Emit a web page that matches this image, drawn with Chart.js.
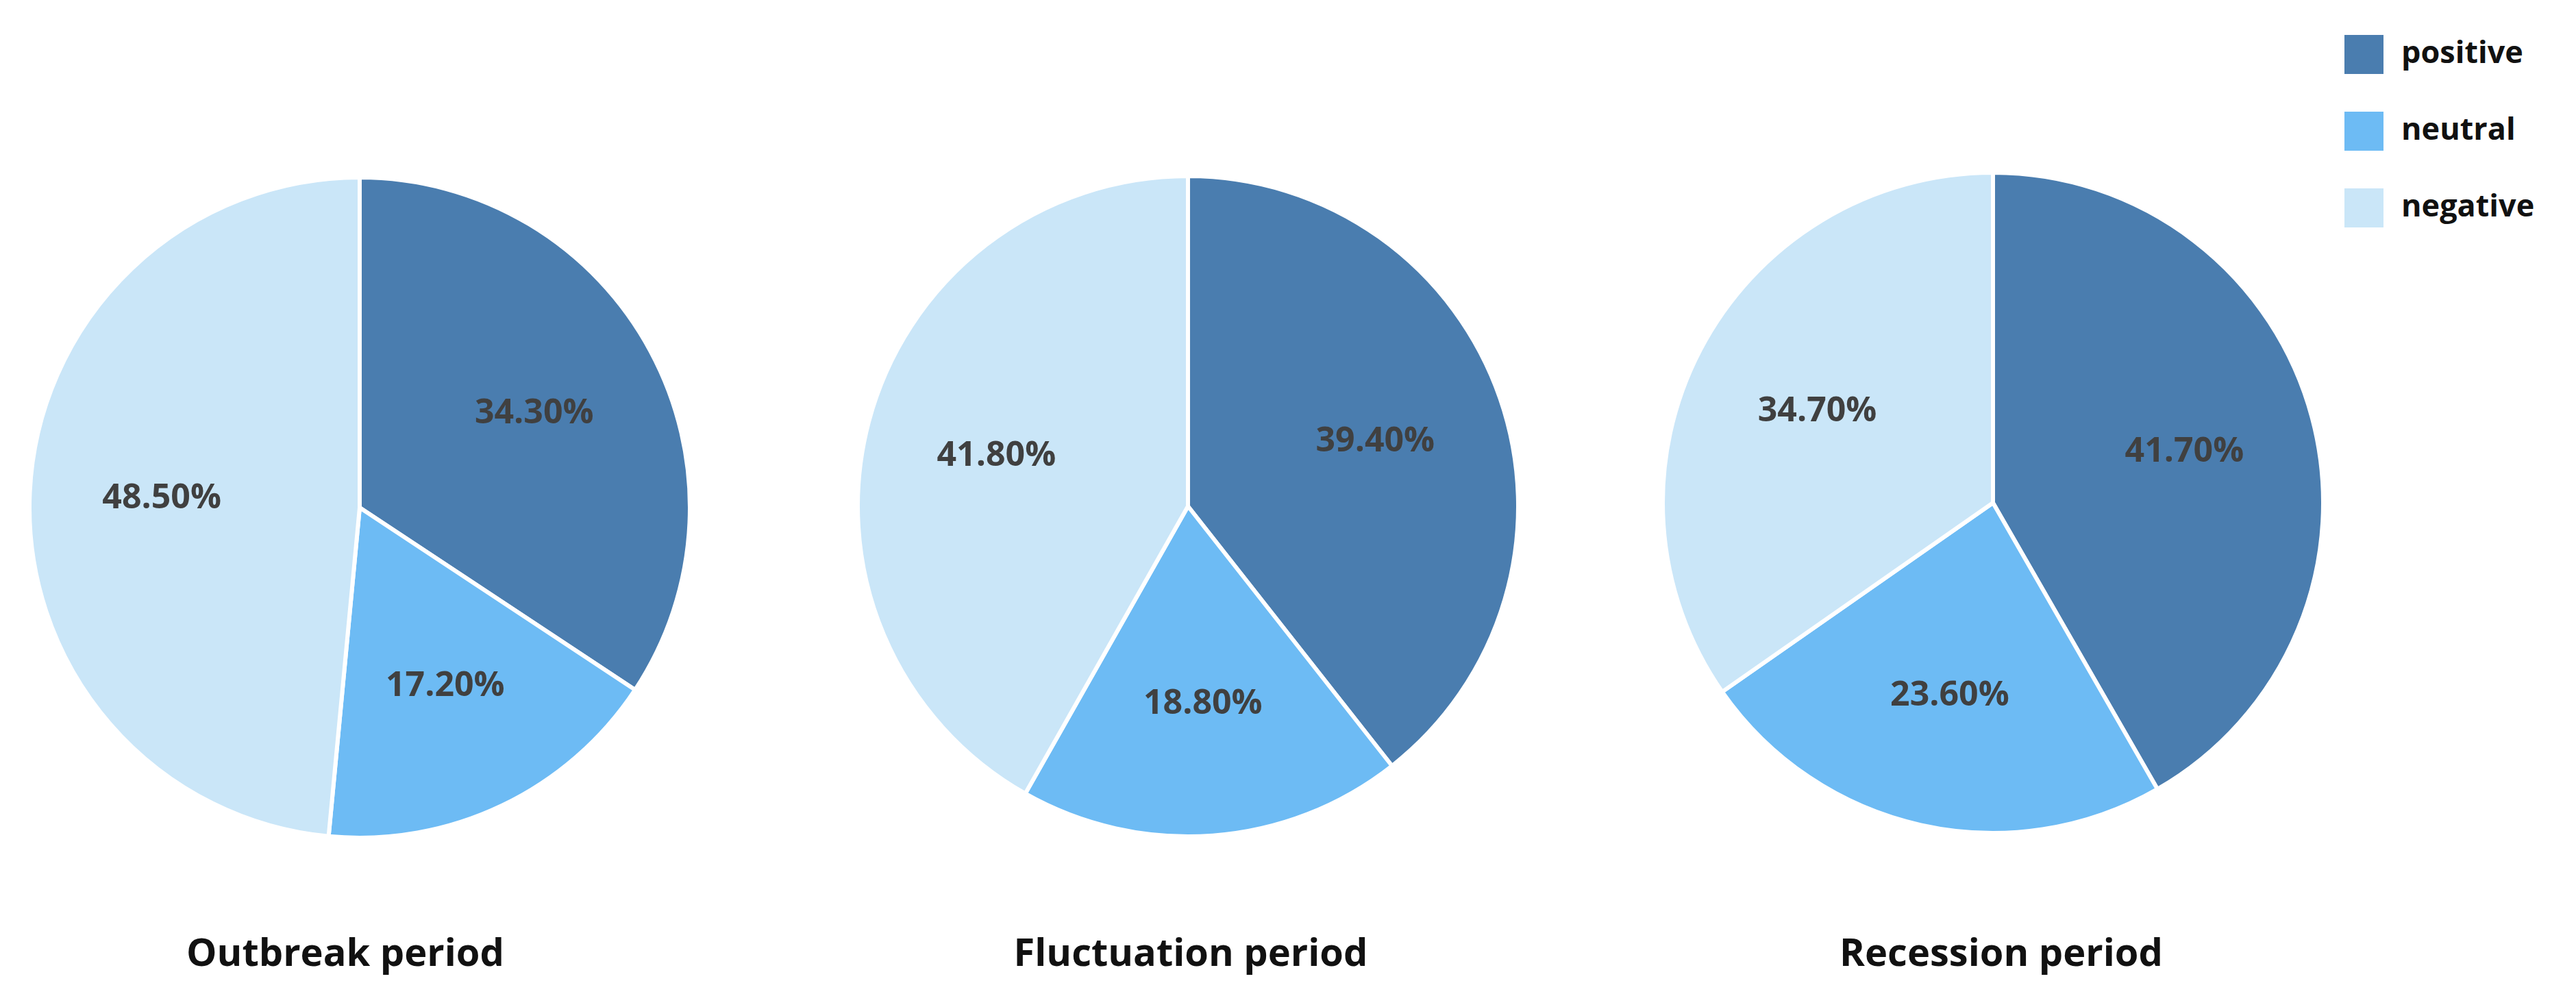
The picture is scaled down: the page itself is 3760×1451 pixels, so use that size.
<!DOCTYPE html>
<html>
<head>
<meta charset="utf-8">
<script src="https://cdn.jsdelivr.net/npm/chart.js@4"></script>
<style>
  body { margin: 0; width: 3760px; height: 1451px; background: #fff; position: relative; overflow: hidden; font-family: "Open Sans", "Noto Sans", sans-serif; }
  .pie { position: absolute; width: 970px; height: 970px; }
  .title { position: absolute; top: 1350px; width: 900px; text-align: center; font-weight: bold; font-size: 56px; color: #111; }
  .legend { position: absolute; left: 3422px; font-weight: bold; font-size: 45px; color: #111; }
  .legend span { display: inline-block; width: 57px; height: 57px; vertical-align: middle; margin-right: 26px; }
</style>
</head>
<body>
<div class="pie" id="p0" style="left:40px;top:256px"><canvas id="c0"></canvas></div>
<div class="pie" id="p1" style="left:1249px;top:254px"><canvas id="c1"></canvas></div>
<div class="pie" id="p2" style="left:2424px;top:249px"><canvas id="c2"></canvas></div>
<div class="title" style="left:54px">Outbreak period</div>
<div class="title" style="left:1288px">Fluctuation period</div>
<div class="title" style="left:2471px">Recession period</div>
<div id="legend"></div>
<script>
const categories = ['positive', 'neutral', 'negative'];
const colors = ['#4a7daf', '#6dbbf4', '#cae6f8'];
const periods = ['Outbreak period', 'Fluctuation period', 'Recession period'];
const outbreak = [34.3, 17.2, 48.5];
const fluctuation = [39.4, 18.8, 41.8];
const recession = [41.7, 23.6, 34.7];
const seriesList = [outbreak, fluctuation, recession];

const legendEl = document.getElementById('legend');
categories.forEach((c, i) => {
  const d = document.createElement('div');
  d.className = 'legend';
  d.style.top = (44 + i * 112) + 'px';
  d.innerHTML = `<span style="background:${colors[i]}"></span>${c}`;
  legendEl.appendChild(d);
});

const pctLabels = {
  id: 'pctLabels',
  afterDatasetsDraw(chart) {
    const ctx = chart.ctx;
    const meta = chart.getDatasetMeta(0);
    ctx.save();
    ctx.font = 'bold 50px "Open Sans", "Noto Sans", sans-serif';
    ctx.fillStyle = '#404040';
    ctx.textAlign = 'center';
    ctx.textBaseline = 'middle';
    meta.data.forEach((arc, i) => {
      const mid = (arc.startAngle + arc.endAngle) / 2;
      const r = arc.outerRadius * 0.6;
      const v = chart.data.datasets[0].data[i];
      ctx.fillText(v.toFixed(2) + '%', arc.x + Math.cos(mid) * r, arc.y + Math.sin(mid) * r);
    });
    ctx.restore();
  }
};

seriesList.forEach((data, k) => {
  new Chart(document.getElementById('c' + k), {
    type: 'pie',
    data: {
      labels: categories,
      datasets: [{ data, backgroundColor: colors, borderColor: '#fff', borderWidth: 6, hoverOffset: 0 }]
    },
    options: {
      responsive: true,
      maintainAspectRatio: false,
      animation: false,
      plugins: { legend: { display: false }, tooltip: { enabled: false } }
    },
    plugins: [pctLabels]
  });
});
</script>
</body>
</html>
